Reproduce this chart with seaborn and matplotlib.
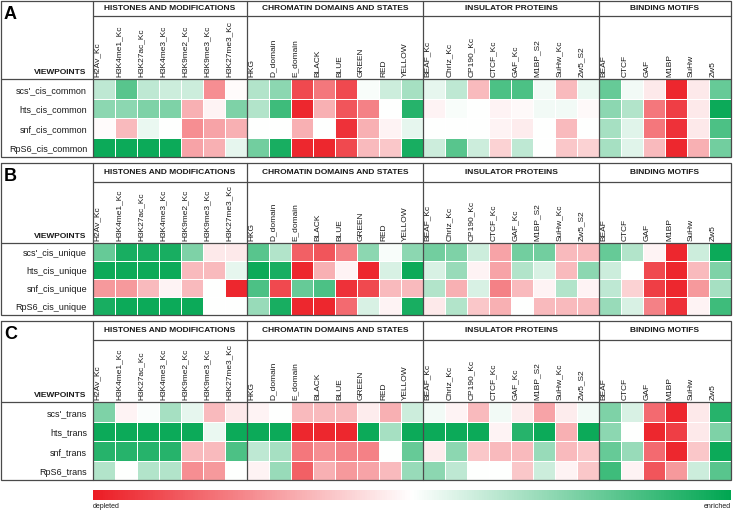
import numpy as np
import pandas as pd
import matplotlib
matplotlib.use("Agg")
import matplotlib.pyplot as plt
import seaborn as sns
from matplotlib.colors import LinearSegmentedColormap
from matplotlib.cm import ScalarMappable
from matplotlib.colors import Normalize

sns.set_theme(style="white")
plt.rcParams['font.family'] = ['Liberation Sans', 'DejaVu Sans']

# ---------------- data ----------------
group_titles = ["HISTONES AND MODIFICATIONS", "CHROMATIN DOMAINS AND STATES",
                "INSULATOR PROTEINS", "BINDING MOTIFS"]
histone_cols = ["H2Av_Kc", "H3K4me1_Kc", "H3K27ac_Kc", "H3K4me3_Kc",
                "H3K9me2_Kc", "H3K9me3_Kc", "H3K27me3_Kc"]
chromatin_cols = ["HKG", "D_domain", "E_domain", "BLACK", "BLUE", "GREEN", "RED", "YELLOW"]
insulator_cols = ["BEAF_Kc", "Chriz_Kc", "CP190_Kc", "CTCF_Kc", "GAF_Kc",
                  "M1BP_S2", "SuHw_Kc", "Zw5_S2"]
motif_cols = ["BEAF", "CTCF", "GAF", "M1BP", "SuHw", "Zw5"]

panel_letters = ["A", "B", "C"]
rows_a = ["scs'_cis_common", "hts_cis_common", "snf_cis_common", "RpS6_cis_common"]
rows_b = ["scs'_cis_unique", "hts_cis_unique", "snf_cis_unique", "RpS6_cis_unique"]
rows_c = ["scs'_trans", "hts_trans", "snf_trans", "RpS6_trans"]

# values: -1 = depleted (red), +1 = enriched (green)
values_a = [
    [0.25, 0.65, 0.25, 0.2, 0.2, -0.5, -0.02,   0.3, 0.45, -0.8, -0.6, -0.8, 0.03, 0.2, 0.35,
     0.1, 0.25, -0.3, 0.7, 0.7, 0.05, -0.3, 0.08,   0.6, 0.05, -0.1, -0.95, -0.1, 0.6],
    [0.45, 0.45, 0.5, 0.5, -0.35, -0.05, 0.5,   0.3, 0.75, -0.95, -0.35, -0.75, -0.55, 0.0, 0.85,
     -0.05, 0.03, 0.0, -0.05, -0.03, 0.05, 0.05, -0.03,   0.45, 0.3, -0.6, -0.85, -0.1, 0.95],
    [-0.02, -0.3, 0.08, 0.0, -0.5, -0.4, -0.35,   0.0, 0.0, -0.35, 0.0, -0.9, -0.35, -0.05, 0.1,
     0.0, 0.0, 0.0, -0.05, -0.08, 0.0, -0.3, 0.0,   0.35, 0.12, -0.6, -0.9, -0.1, 0.7],
    [0.95, 0.95, 0.95, 0.95, -0.4, -0.35, 0.1,   0.55, 0.9, -0.95, -0.95, -0.8, -0.3, -0.25, 0.9,
     0.2, 0.65, 0.2, -0.2, 0.25, 0.0, -0.25, -0.2,   0.35, 0.12, -0.3, -0.95, -0.35, 0.55],
]
values_b = [
    [0.6, 0.9, 0.9, 0.9, 0.5, -0.1, -0.1,   0.65, 0.3, -0.7, -0.75, -0.55, 0.45, 0.03, 0.45,
     0.55, 0.5, 0.2, -0.4, 0.55, 0.55, -0.3, -0.3,   0.6, 0.3, -0.05, -0.95, 0.2, 0.95],
    [0.95, 0.95, 0.95, 0.95, -0.3, -0.3, 0.1,   0.95, 0.9, -0.95, -0.35, -0.05, -0.95, 0.15, 0.95,
     0.15, 0.4, -0.05, -0.4, 0.3, 0.15, -0.3, 0.45,   0.2, 0.0, -0.8, -0.95, -0.3, 0.5],
    [-0.45, -0.45, -0.3, -0.05, -0.3, 0.0, -0.95,   0.7, -0.8, 0.6, 0.7, -0.9, -0.8, -0.3, -0.3,
     0.3, -0.35, 0.15, -0.55, -0.3, -0.05, 0.3, -0.05,   0.25, -0.2, -0.85, -0.95, -0.45, 0.35],
    [0.9, 0.95, 0.95, 0.95, 0.95, 0.0, 0.0,   0.4, 0.9, -0.95, -0.95, -0.65, 0.15, -0.05, 0.9,
     -0.1, 0.3, -0.25, -0.35, 0.0, -0.3, -0.3, -0.3,   0.4, 0.15, -0.55, -0.9, -0.05, 0.75],
]
values_c = [
    [0.5, -0.05, 0.02, 0.35, 0.1, -0.3, -0.1,   -0.05, 0.0, -0.3, -0.3, -0.3, -0.08, -0.35, 0.2,
     0.05, -0.05, -0.3, 0.05, -0.08, -0.4, -0.08, 0.05,   0.5, 0.15, -0.65, -0.95, -0.1, 0.85],
    [0.95, 0.95, 0.95, 0.95, 0.95, 0.08, 0.95,   0.95, 0.95, -0.95, -0.95, -0.95, 0.95, 0.35, 0.95,
     0.95, 0.95, 0.95, -0.05, 0.85, 0.95, -0.35, 0.95,   0.45, 0.0, -0.95, -0.85, -0.1, 0.5],
    [0.85, 0.85, 0.85, 0.85, -0.3, -0.3, 0.7,   0.25, 0.35, -0.6, -0.5, -0.55, -0.55, 0.0, 0.6,
     -0.08, 0.45, -0.25, -0.3, -0.3, 0.4, -0.3, -0.25,   0.6, 0.4, -0.65, -0.95, -0.25, 0.95],
    [0.3, 0.0, 0.3, 0.3, -0.5, -0.45, 0.0,   -0.05, 0.4, -0.7, -0.35, -0.45, -0.4, -0.3, 0.4,
     0.45, 0.25, 0.0, 0.0, -0.25, 0.2, -0.05, -0.25,   0.75, -0.05, -0.75, -0.45, 0.2, 0.65],
]
legend_low = "depleted"
legend_high = "enriched"

# ---------------- layout ----------------
W, H = 733, 512
fig = plt.figure(figsize=(W / 100, H / 100), dpi=100)
cmap = LinearSegmentedColormap.from_list("rwg", ["#EC1C24", "#FFFFFF", "#00A651"])

groups = [histone_cols, chromatin_cols, insulator_cols, motif_cols]
all_cols = sum(groups, [])
ncols = len(all_cols)

X_LEFT, X_HEAT, X_RIGHT = 0.5, 93, 731
cell_w = (X_RIGHT - X_HEAT) / ncols
# (box top, title line, heat top, heat bottom)
panel_geo = [(1, 16, 79, 157), (163, 182, 243, 315), (321, 340, 402, 480)]
panel_rows = [rows_a, rows_b, rows_c]
panel_vals = [values_a, values_b, values_c]

def fx(px):
    return px / W

def fy(py):
    return 1 - py / H

overlay = fig.add_axes([0, 0, 1, 1])
overlay.set_xlim(0, W)
overlay.set_ylim(H, 0)
overlay.axis("off")
overlay.set_zorder(10)
overlay.patch.set_visible(False)

lc = "#4a4a4a"
lw = 0.9
txt = "#1a1a1a"

for letter, (top, tline, htop, hbot), rows, vals in zip(panel_letters, panel_geo, panel_rows, panel_vals):
    ax = fig.add_axes([fx(X_HEAT), fy(hbot), fx(X_RIGHT - X_HEAT), (hbot - htop) / H])
    df = pd.DataFrame(vals, index=rows, columns=all_cols)
    sns.heatmap(df, ax=ax, cmap=cmap, vmin=-1, vmax=1, cbar=False,
                linewidths=0.7, linecolor="white", xticklabels=False, yticklabels=False)
    ax.set_xlabel("")
    ax.set_ylabel("")
    ax.tick_params(length=0)
    # column labels
    for j, c in enumerate(all_cols):
        ax.text(j + 0.04, -0.1, c, rotation=90, ha="left", va="bottom",
                fontsize=6.0, color=txt)
    # row labels
    ytr = ax.get_yaxis_transform()
    for i, r in enumerate(rows):
        ax.text(-6 / (X_RIGHT - X_HEAT), i + 0.6, r, transform=ytr, ha="right",
                va="center", fontsize=6.5, color=txt)

    # frame lines
    overlay.plot([X_LEFT, X_RIGHT, X_RIGHT, X_LEFT, X_LEFT], [top, top, hbot, hbot, top],
                 color=lc, lw=lw, solid_joinstyle="miter")
    overlay.plot([X_HEAT, X_HEAT], [top, hbot], color=lc, lw=lw)
    overlay.plot([X_HEAT, X_RIGHT], [tline, tline], color=lc, lw=lw)
    overlay.plot([X_LEFT, X_RIGHT], [htop, htop], color=lc, lw=lw)
    start = 0
    for g, title in zip(groups, group_titles):
        x0 = X_HEAT + start * cell_w
        x1 = X_HEAT + (start + len(g)) * cell_w
        overlay.text((x0 + x1) / 2, (top + tline) / 2 + 0.5, title, ha="center", va="center",
                     fontsize=6.0, fontweight="bold", color=txt)
        if start > 0:
            overlay.plot([x0, x0], [top, hbot], color=lc, lw=lw)
        start += len(g)
    overlay.text(4, top + 5, letter, ha="left", va="top", fontsize=13, fontweight="bold", color="black")
    overlay.text(86, htop - 3, "VIEWPOINTS", ha="right", va="bottom", fontsize=6,
                 fontweight="bold", color=txt)

# colour bar
cax = fig.add_axes([fx(X_HEAT), fy(500), fx(X_RIGHT - X_HEAT), 10 / H])
cb = fig.colorbar(ScalarMappable(norm=Normalize(-1, 1), cmap=cmap), cax=cax, orientation="horizontal")
cb.outline.set_visible(False)
cb.set_ticks([])
overlay.text(X_HEAT, 507, legend_low, ha="left", va="center", fontsize=5, color=txt)
overlay.text(X_RIGHT, 507, legend_high, ha="right", va="center", fontsize=5, color=txt)

fig.savefig("out.png", dpi=100)
